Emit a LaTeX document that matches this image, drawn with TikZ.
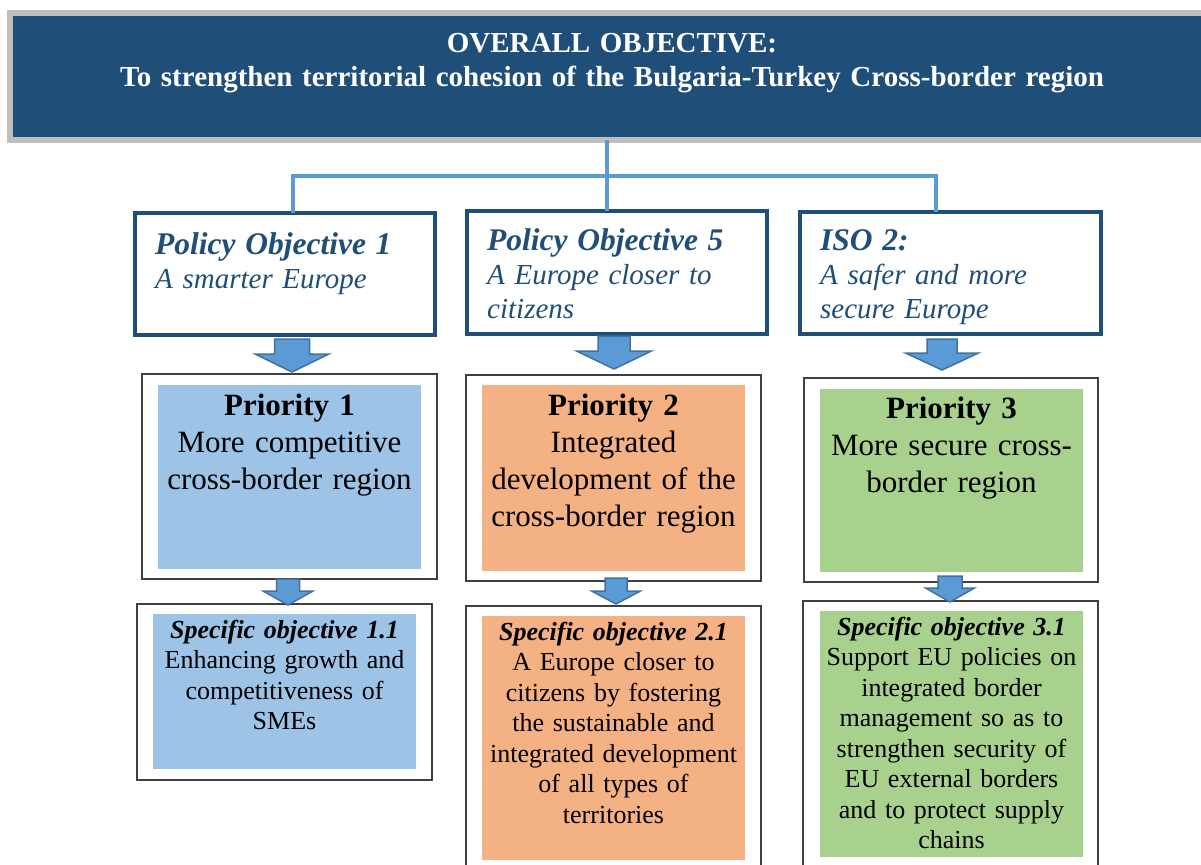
\documentclass[tikz,border=0pt]{standalone}
\usepackage{fontspec}
\setmainfont{Liberation Serif}
\usepackage{xcolor}
\definecolor{TitleBlue}{RGB}{31,78,121}
\definecolor{LinkBlue}{RGB}{91,155,213}
\definecolor{ArrowEdge}{RGB}{65,113,156}
\definecolor{FrameGray}{RGB}{191,191,191}
\definecolor{PrioBlue}{RGB}{157,195,230}
\definecolor{PrioOrange}{RGB}{244,177,131}
\definecolor{PrioGreen}{RGB}{169,209,142}

% block arrow: x, top, neck, tip, shaft half width, head half width
\newcommand{\blockarrow}[6]{%
	\draw[barrow] (#1-#5,#2) -- (#1+#5,#2) -- (#1+#5,#3) -- (#1+#6,#3)
		-- (#1,#4) -- (#1-#6,#3) -- (#1-#5,#3) -- cycle;}
% heading line of a policy objective box
\newcommand{\pohead}[1]{{\fontsize{31.5}{34}\selectfont\bfseries #1}}

\begin{document}
\begin{tikzpicture}[x=1pt, y=-1pt,
	titlebox/.style={draw=FrameGray, line width=6, fill=TitleBlue, anchor=north west, inner sep=0, outer sep=0},
	pobox/.style={draw=TitleBlue, line width=4, fill=white, anchor=north west, inner sep=0, outer sep=0},
	framebox/.style={draw=black!75, line width=1.5, fill=white, anchor=north west, inner sep=0, outer sep=0},
	link/.style={LinkBlue, line width=3.5},
	barrow/.style={fill=LinkBlue, draw=ArrowEdge, line width=1.5, line join=miter},
	titletext/.style={anchor=base, inner sep=0, text width=1150, align=center, text=white, font=\fontsize{29}{34}\selectfont\bfseries},
	potext/.style={anchor=base west, inner sep=0, text width=290, align=left, text=TitleBlue, font=\fontsize{29}{34}\selectfont\itshape},
	priotext/.style={anchor=base, inner sep=0, text width=300, align=center, font=\fontsize{31}{37}\selectfont},
	sotext/.style={anchor=base, inner sep=0, text width=300, align=center, font=\fontsize{26}{30.5}\selectfont}]
	\useasboundingbox (0,0) rectangle (1201,864);
	\clip (0,0) rectangle (1201,864);
	
	% overall objective
	\node[titlebox, minimum width=1210, minimum height=127] (title) at (10,13) {};
	\node[titletext] (ttl) at (612,53) {OVERALL OBJECTIVE:\\To strengthen territorial cohesion of the Bulgaria-Turkey Cross-border region};
	
	% policy objectives
	\node[pobox, minimum width=300, minimum height=122] (po1) at (135,213) {};
	\node[pobox, minimum width=300, minimum height=123] (po5) at (467,211) {};
	\node[pobox, minimum width=301, minimum height=122] (iso) at (800,212) {};
	\node[potext] (po1t) at (155,254) {\pohead{Policy Objective 1}\\A smarter Europe};
	\node[potext] (po5t) at (487,250) {\pohead{Policy Objective 5}\\A Europe closer to\\citizens};
	\node[potext] (isot) at (820,250) {\pohead{ISO 2:}\\A safer and more\\secure Europe};
	
	% tree lines
	\coordinate (hub) at (607,174);
	\coordinate (j1) at (293,174);
	\coordinate (j3) at (936,174);
	\draw[link] (hub |- title.south) -- (hub |- po5.north);
	\draw[link] (j1 |- po1.north) -- ([yshift=-2]j1) -- ([yshift=-2]j1 -| j3) -- (j3 |- iso.north);
	
	% priorities
	\node[framebox, minimum width=295, minimum height=205] (pr1) at (142,374) {};
	\node[framebox, minimum width=295, minimum height=206] (pr2) at (466,375) {};
	\node[framebox, minimum width=294, minimum height=204] (pr3) at (804,378) {};
	\fill[PrioBlue] (158,385) rectangle (421,569);
	\fill[PrioOrange] (482,385) rectangle (745,571);
	\fill[PrioGreen] (820,389) rectangle (1083,572);
	\node[priotext] (pr1t) at (289.5,415) {{\bfseries Priority 1}\\More competitive\\cross-border region};
	\node[priotext] (pr2t) at (613.5,415) {{\bfseries Priority 2}\\Integrated\\development of the\\cross-border region};
	\node[priotext] (pr3t) at (951.5,418) {{\bfseries Priority 3}\\More secure cross-\\border region};
	
	% specific objectives
	\node[framebox, minimum width=295, minimum height=176] (so1) at (137,604) {};
	\node[framebox, minimum width=295, minimum height=300] (so2) at (466,606) {};
	\node[framebox, minimum width=295, minimum height=300] (so3) at (803,601) {};
	\fill[PrioBlue] (153,614) rectangle (416,769);
	\fill[PrioOrange] (482,616) rectangle (745,860);
	\fill[PrioGreen] (820,611) rectangle (1083,857);
	\node[sotext] (so1t) at (284.5,638) {{\bfseries\itshape Specific objective 1.1}\\Enhancing growth and\\competitiveness of\\SMEs};
	\node[sotext] (so2t) at (613.5,640) {{\bfseries\itshape Specific objective 2.1}\\A Europe closer to\\citizens by fostering\\the sustainable and\\integrated development\\of all types of\\territories};
	\node[sotext] (so3t) at (951.5,635) {{\bfseries\itshape Specific objective 3.1}\\Support EU policies on\\integrated border\\management so as to\\strengthen security of\\EU external borders\\and to protect supply\\chains};
	
	% block arrows
	\blockarrow{292}{339}{354}{372}{17.5}{37}
	\blockarrow{614}{336}{351}{369}{16}{37.5}
	\blockarrow{942}{339}{353}{370}{15}{36.5}
	\blockarrow{288}{579}{591}{605}{11.5}{25}
	\blockarrow{616}{578}{591}{604}{11}{24.5}
	\blockarrow{950}{576}{588}{602}{12}{24.5}
\end{tikzpicture}
\end{document}
